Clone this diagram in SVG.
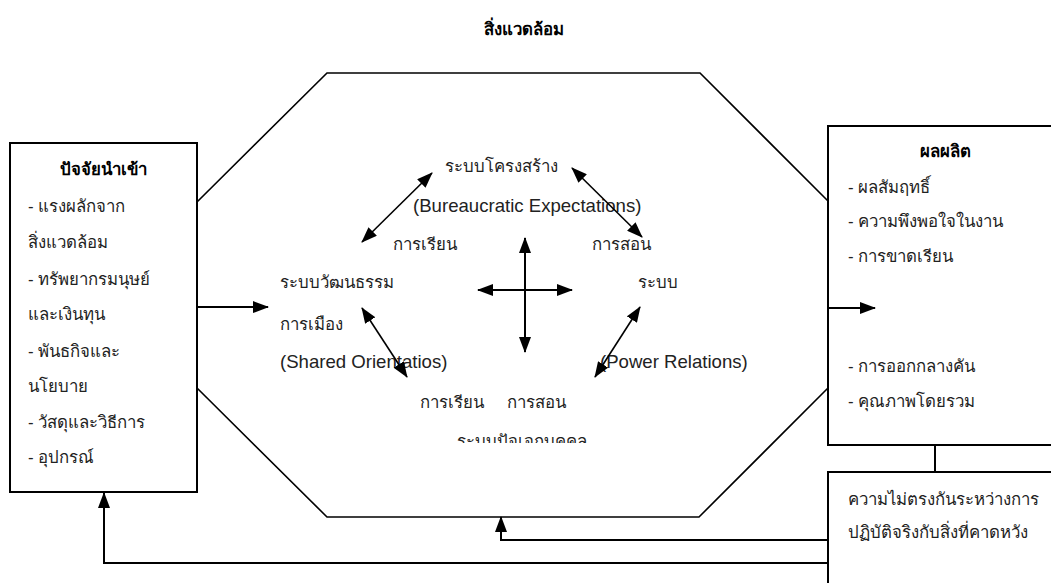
<svg xmlns="http://www.w3.org/2000/svg" width="1051" height="583" viewBox="0 0 1051 583">
  <style>
    .t { font-family: "Liberation Sans", "Noto Sans", sans-serif; font-size: 16.8px; fill: #222; }
    .en { font-size: 18.6px; }
    .b { font-weight: bold; fill: #000; }
    .box { fill: #fff; stroke: #000; stroke-width: 2; }
    .oct { fill: none; stroke: #000; stroke-width: 1.6; }
    .ln { fill: none; stroke: #000; stroke-width: 2; }
    .dl { fill: none; stroke: #000; stroke-width: 1.6; }
  </style>
  <defs>
    <marker id="ah" viewBox="0 0 16 12" refX="15" refY="6" markerWidth="16" markerHeight="12" markerUnits="userSpaceOnUse" orient="auto-start-reverse">
      <path d="M0,0 L16,6 L0,12 Z" fill="#000"/>
    </marker>
    <clipPath id="cut">
      <rect x="400" y="420" width="260" height="23"/>
    </clipPath>
  </defs>
  <rect width="1051" height="583" fill="#fff"/>

  <!-- environment -->
  <g id="environment">
    <text class="t b" x="524" y="35" text-anchor="middle">สิ่งแวดล้อม</text>
    <polygon class="oct" points="327,73 700,73 828,201 828,388 699,517 327,517 197,388 197,202"/>
  </g>

  <!-- inputs -->
  <g id="inputs">
    <rect class="box" x="10" y="143" width="187" height="349"/>
    <text class="t b" x="103" y="175" text-anchor="middle">ปัจจัยนำเข้า</text>
    <text class="t" x="28" y="212">- แรงผลักจาก</text>
    <text class="t" x="28" y="248">สิ่งแวดล้อม</text>
    <text class="t" x="28" y="285">- ทรัพยากรมนุษย์</text>
    <text class="t" x="28" y="320">และเงินทุน</text>
    <text class="t" x="28" y="357">- พันธกิจและ</text>
    <text class="t" x="28" y="392">นโยบาย</text>
    <text class="t" x="28" y="428">- วัสดุและวิธีการ</text>
    <text class="t" x="28" y="463">- อุปกรณ์</text>
  </g>

  <!-- outputs -->
  <g id="outputs">
    <rect class="box" x="828" y="126" width="240" height="319"/>
    <text class="t b" x="945" y="157" text-anchor="middle">ผลผลิต</text>
    <text class="t" x="848" y="193">- ผลสัมฤทธิ์</text>
    <text class="t" x="848" y="227">- ความพึงพอใจในงาน</text>
    <text class="t" x="848" y="262">- การขาดเรียน</text>
    <text class="t" x="848" y="372">- การออกกลางคัน</text>
    <text class="t" x="848" y="407">- คุณภาพโดยรวม</text>
  </g>

  <!-- feedback -->
  <g id="feedback">
    <rect class="box" x="828" y="472" width="240" height="130"/>
    <text class="t" x="848" y="505">ความไม่ตรงกันระหว่างการ</text>
    <text class="t" x="848" y="538">ปฏิบัติจริงกับสิ่งที่คาดหวัง</text>
  </g>

  <!-- subsystems -->
  <g id="structural">
    <text class="t" x="445" y="172">ระบบโครงสร้าง</text>
    <text class="t en" x="413" y="212">(Bureaucratic Expectations)</text>
  </g>
  <g id="cultural">
    <text class="t" x="280" y="288">ระบบวัฒนธรรม</text>
    <text class="t" x="280" y="330">การเมือง</text>
    <text class="t en" x="280" y="368">(Shared Orientatios)</text>
  </g>
  <g id="power">
    <text class="t" x="638" y="288">ระบบ</text>
    <text class="t en" x="600" y="368">(Power Relations)</text>
  </g>
  <g id="individual">
    <text class="t" x="393" y="250">การเรียน</text>
    <text class="t" x="592" y="250">การสอน</text>
    <text class="t" x="420" y="408">การเรียน</text>
    <text class="t" x="507" y="408">การสอน</text>
    <text class="t" x="457" y="447" clip-path="url(#cut)">ระบบปัจเจกบุคคล</text>
  </g>

  <!-- connectors -->
  <g id="connectors">
    <line class="ln" x1="197" y1="307" x2="268" y2="307" marker-end="url(#ah)"/>
    <line class="ln" x1="828" y1="308" x2="875" y2="308" marker-end="url(#ah)"/>
    <line class="ln" x1="935" y1="445" x2="935" y2="472"/>
    <polyline class="ln" points="828,540 501,540 501,517" marker-end="url(#ah)"/>
    <polyline class="ln" points="828,563 104,563 104,493" marker-end="url(#ah)"/>
    <line class="dl" x1="432" y1="173" x2="362" y2="242" marker-start="url(#ah)" marker-end="url(#ah)"/>
    <line class="dl" x1="572" y1="168" x2="642" y2="237" marker-start="url(#ah)" marker-end="url(#ah)"/>
    <line class="dl" x1="362" y1="308" x2="407" y2="377" marker-start="url(#ah)" marker-end="url(#ah)"/>
    <line class="dl" x1="640" y1="307" x2="595" y2="377" marker-start="url(#ah)" marker-end="url(#ah)"/>
    <line class="ln" x1="525" y1="238" x2="525" y2="352" marker-start="url(#ah)" marker-end="url(#ah)"/>
    <line class="ln" x1="478" y1="290" x2="572" y2="290" marker-start="url(#ah)" marker-end="url(#ah)"/>
  </g>
</svg>
